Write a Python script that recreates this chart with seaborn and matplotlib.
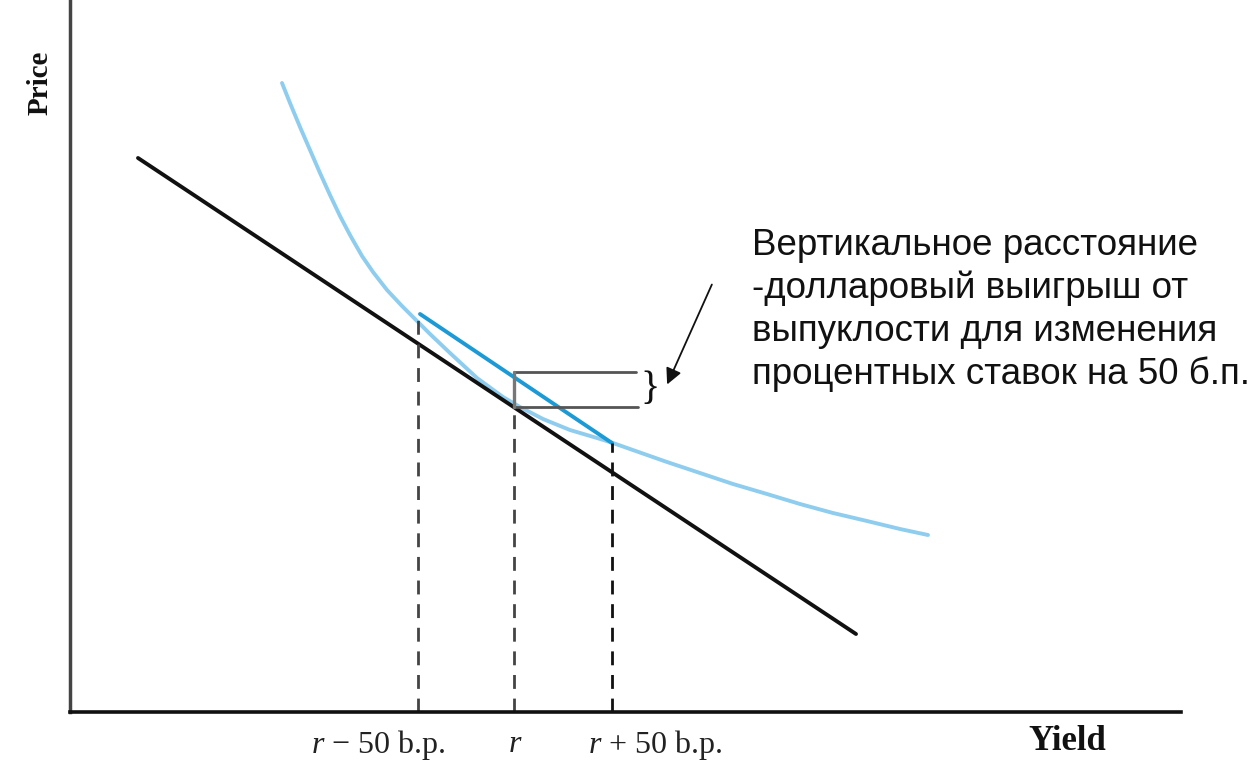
import numpy as np
import pandas as pd
import matplotlib
matplotlib.use("Agg")
import matplotlib.pyplot as plt
import seaborn as sns

# price/yield curve (convex)
curve_yield = [212, 220, 230, 240, 250, 260, 270, 280, 292, 303, 317, 332, 347, 360,
               380, 407, 433, 450, 473, 500, 527, 543, 560, 597, 630, 663, 697, 730,
               763, 797, 830, 858]
curve_price = [629, 609, 585, 562, 539, 517, 496, 477, 456, 440, 422, 406, 391, 378,
               359, 334, 315, 305, 293, 282, 274, 269, 263, 250, 239, 228, 218, 208,
               199, 191, 183, 177]

# duration tangent line
tangent_yield = [68, 786]
tangent_price = [554, 78]

# chord between r-50bp and r+50bp
chord_yield = [350, 542]
chord_price = [398, 269]

# yield levels and where the dashed guides start
levels_yield = [348, 444, 542]
levels_top = [398, 305, 269]
level_labels = ["$r$ \u2212 50 b.p.", "$r$", "$r$ + 50 b.p."]

# convexity gain bracket
gain_top = 340
gain_bottom = 305
gain_right = 566

note = ("Вертикальное расстояние\n-долларовый выигрыш от\n"
        "выпуклости для изменения\nпроцентных ставок на 50 б.п.")

sns.set_style("white")
plt.rcParams["font.family"] = ["Liberation Sans", "DejaVu Sans"]
plt.rcParams["mathtext.fontset"] = "custom"
plt.rcParams["mathtext.rm"] = "Liberation Serif"
plt.rcParams["mathtext.it"] = "Liberation Serif:italic"

fig = plt.figure(figsize=(12.57, 7.62), dpi=100)
ax = fig.add_axes([70 / 1257, 50 / 762, 1111 / 1257, 712 / 762])

sns.lineplot(x=curve_yield, y=curve_price, ax=ax, color="#8fcdef", lw=2.8, sort=False)
sns.lineplot(x=tangent_yield, y=tangent_price, ax=ax, color="#111111", lw=2.8)
sns.lineplot(x=chord_yield, y=chord_price, ax=ax, color="#1b9ad6", lw=2.8)

for xv, top, c in zip(levels_yield, levels_top, ["#444444", "#444444", "#111111"]):
    ax.plot([xv, xv], [0, top], color=c, lw=2, ls=(0, (5, 3.5)))

# bracket
ax.plot([levels_yield[1], gain_right], [gain_top, gain_top], color="#555555", lw=2)
ax.plot([levels_yield[1], gain_right + 2], [gain_bottom, gain_bottom], color="#555555", lw=2)
ax.plot([levels_yield[1], levels_yield[1]], [gain_bottom, gain_top], color="#777777", lw=2.4)
ax.text(580, 322, "}", fontsize=29, family=["Liberation Serif"], ha="center", va="center",
        color="#111111")

ax.annotate("", xy=(596, 325), xytext=(643, 430),
            arrowprops=dict(arrowstyle="-|>", color="#111111", lw=1.3, mutation_scale=24))

ax.text(682, 402, note, fontsize=26.5, ha="left", va="center", linespacing=1.27, color="#111111")

for xv, lab, off in zip(levels_yield, level_labels, [-40, 1, 43]):
    ax.text(xv + off, -33, lab, fontsize=23, family=["Liberation Serif"], ha="center",
            va="center", clip_on=False, color="#222222")

ax.text(997, -29, "Yield", fontsize=25, family=["Liberation Serif"], weight="bold",
        ha="center", va="center", clip_on=False, color="#111111")
ax.text(-30, 629, "Price", fontsize=21, family=["Liberation Serif"], weight="bold",
        rotation=90, ha="center", va="center", clip_on=False, color="#111111")

ax.set_xlim(0, 1111)
ax.set_ylim(0, 712)
ax.set_xticks([])
ax.set_yticks([])
for side in ["top", "right"]:
    ax.spines[side].set_visible(False)
ax.spines["left"].set_color("#444444")
ax.spines["left"].set_linewidth(2.5)
ax.spines["bottom"].set_color("#111111")
ax.spines["bottom"].set_linewidth(2.6)

fig.savefig("out.png", dpi=100)
